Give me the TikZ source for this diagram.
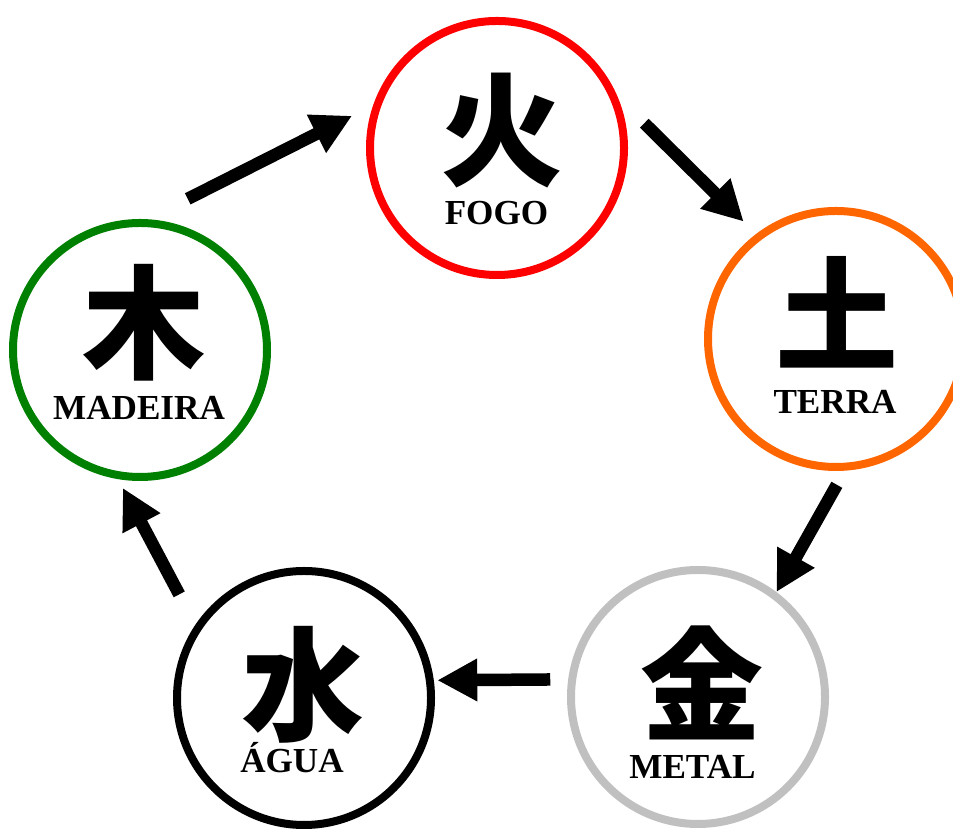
\documentclass[tikz,border=0pt]{standalone}
\usepackage{fontspec}
\setmainfont{Liberation Serif}
\newfontfamily\cjk{Noto Sans CJK JP}
\usetikzlibrary{arrows.meta, positioning, calc}
\definecolor{fogored}{RGB}{255,0,0}
\definecolor{terraorange}{RGB}{255,102,0}
\definecolor{metalgrey}{RGB}{192,192,192}
\definecolor{madeiragreen}{RGB}{0,128,0}

\begin{document}
\begin{tikzpicture}[
    element/.style={circle, draw, line width=0.16cm, inner sep=0pt, outer sep=0pt, minimum size=5.08cm},
    kanji/.style={font=\cjk\bfseries\fontsize{70}{70}\selectfont},
    elname/.style={anchor=base, font=\bfseries\fontsize{20}{20}\selectfont},
    flow/.style={line width=0.25cm, -{Triangle[length=0.8cm, width=0.8cm]}}
]
    \useasboundingbox (0,0) rectangle (19.06,16.64);
    % the five elements
    \node[element, draw=fogored] (fogo) at (9.94,13.68) {};
    \node[element, draw=terraorange, minimum size=5.12cm] (terra) at (16.72,9.86) {};
    \node[element, draw=metalgrey] (metal) at (13.96,2.70) {};
    \node[element, draw=black] (agua) at (6.08,2.68) {};
    \node[element, draw=madeiragreen] (madeira) at (2.80,9.64) {};
    % characters
    \node[kanji] (fogo-kanji) at ([shift={(0.1,0.34)}]fogo.center) {火};
    \node[kanji] (terra-kanji) at ([shift={(0.02,0.54)}]terra.center) {土};
    \node[kanji] (metal-kanji) at ([shift={(0.08,0.28)}]metal.center) {金};
    \node[kanji] (agua-kanji) at ([shift={(-0.02,0.26)}]agua.center) {水};
    \node[kanji] (madeira-kanji) at ([shift={(0.08,0.54)}]madeira.center) {木};
    % names
    \node[elname] (fogo-name) at ([shift={(-0.01,-1.54)}]fogo.center) {FOGO};
    \node[elname] (terra-name) at ([shift={(-0.02,-1.49)}]terra.center) {TERRA};
    \node[elname] (metal-name) at ([shift={(-0.11,-1.63)}]metal.center) {METAL};
    \node[elname] (agua-name) at ([shift={(-0.24,-1.50)}]agua.center) {ÁGUA};
    \node[elname] (madeira-name) at ([shift={(-0.02,-1.40)}]madeira.center) {MADEIRA};
    % generating cycle
    \draw[flow, shorten <=1.07cm, shorten >=0.59cm] (madeira.90) -- (fogo.159);
    \draw[flow, shorten <=0.99cm, shorten >=0.43cm] (fogo.28) -- (terra.127);
    \draw[flow, shorten <=0.42cm, shorten >=0.08cm] (terra.275) -- (metal.53);
    \draw[flow, shorten <=0.44cm, shorten >=0.15cm] (metal.172) -- (agua.8);
    \draw[flow, shorten <=0.78cm, shorten >=0.30cm] (agua.147) -- (madeira.259);
\end{tikzpicture}
\end{document}
